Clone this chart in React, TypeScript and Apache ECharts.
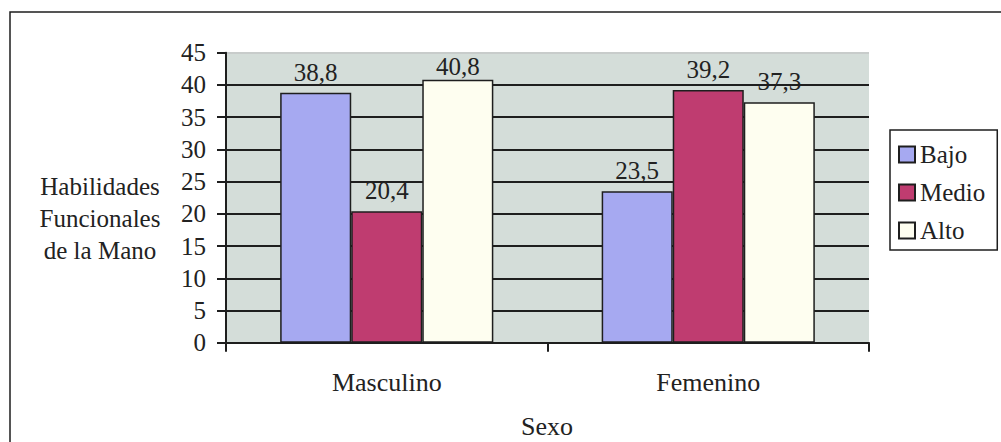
import React, { useEffect, useRef } from "react";
import * as echarts from "echarts";

const categories = ["Masculino", "Femenino"];
const seriesNames = ["Bajo", "Medio", "Alto"];
const bajo = [38.8, 23.5];
const medio = [20.4, 39.2];
const alto = [40.8, 37.3];
const yTicks = [0, 5, 10, 15, 20, 25, 30, 35, 40, 45];
const yTitle = ["Habilidades", "Funcionales", "de la Mano"];
const xTitle = "Sexo";

const FONT = "Liberation Serif, Times New Roman, serif";
const colors = ["#a6a9f1", "#bf3c70", "#fefef0"];

export default function App() {
  const ref = useRef<HTMLDivElement>(null);
  useEffect(() => {
    if (!ref.current) return;
    const chart = echarts.init(ref.current, null, { renderer: "svg" });
    const values = [bajo, medio, alto];
    const maxVal = Math.max(...bajo, ...medio, ...alto);
    const fmt = (p: any) => String(p.value).replace(".", ",");
    const series = seriesNames.map((name, i) => ({
      name,
      type: "bar",
      barGap: "0%",
      barCategoryGap: "33.7%",
      itemStyle: { color: colors[i], borderColor: "#1e1e1e", borderWidth: 1.5 },
      label: {
        show: true,
        position: "top",
        distance: 8,
        color: "#222",
        fontFamily: FONT,
        fontSize: 25,
        formatter: fmt,
      },
      data: values[i].map((v) =>
        v === maxVal ? { value: v, label: { distance: 1 } } : v
      ),
    }));
    const splitColors = yTicks.map((t, i) => (i === yTicks.length - 1 ? "#c8cccb" : "#1e1e1e"));
    chart.setOption({
      animation: false,
      backgroundColor: "#ffffff",
      textStyle: { fontFamily: FONT },
      grid: {
        left: 226,
        top: 52.7,
        right: 132,
        bottom: 99.3,
        show: true,
        backgroundColor: "#d4ddd9",
        borderWidth: 0,
      },
      legend: {
        orient: "vertical",
        left: 890,
        top: 130,
        padding: [12, 12, 7, 8],
        itemWidth: 16,
        itemHeight: 16,
        itemGap: 13,
        icon: "rect",
        borderColor: "#1e1e1e",
        borderWidth: 1.5,
        backgroundColor: "#ffffff",
        textStyle: { fontFamily: FONT, fontSize: 25, color: "#222" },
        data: seriesNames,
      },
      xAxis: {
        type: "category",
        data: categories,
        axisLine: { show: true, lineStyle: { color: "#1e1e1e", width: 2 } },
        axisTick: { show: true, length: 9, lineStyle: { color: "#1e1e1e", width: 2 } },
        axisLabel: { color: "#222", fontFamily: FONT, fontSize: 26, margin: 27 },
        splitLine: { show: false },
      },
      yAxis: {
        type: "value",
        min: 0,
        max: 45,
        interval: 5,
        axisLine: { show: true, lineStyle: { color: "#1e1e1e", width: 2 } },
        axisTick: { show: true, length: 9, lineStyle: { color: "#1e1e1e", width: 2 } },
        axisLabel: { color: "#222", fontFamily: FONT, fontSize: 25, margin: 20 },
        splitLine: { show: true, lineStyle: { color: splitColors, width: 2 } },
      },
      graphic: [
        {
          type: "rect",
          shape: { x: 10, y: 12, width: 1100, height: 600 },
          style: { fill: "none", stroke: "#1e1e1e", lineWidth: 1.5 },
          silent: true,
          z: -1,
        },
        {
          type: "text",
          x: 100,
          y: 218,
          style: {
            text: yTitle.join("\n"),
            fontFamily: FONT,
            fontSize: 25,
            lineHeight: 32,
            fill: "#222",
            align: "center",
            verticalAlign: "middle",
          },
        },
        {
          type: "text",
          x: 547,
          y: 426,
          style: {
            text: xTitle,
            fontFamily: FONT,
            fontSize: 26,
            fill: "#222",
            align: "center",
            verticalAlign: "middle",
          },
        },
      ],
      series,
    });
    return () => chart.dispose();
  }, []);
  return (
    <div
      ref={ref}
      style={{ position: "fixed", left: 0, top: 0, width: 1001, height: 442 }}
    />
  );
}
